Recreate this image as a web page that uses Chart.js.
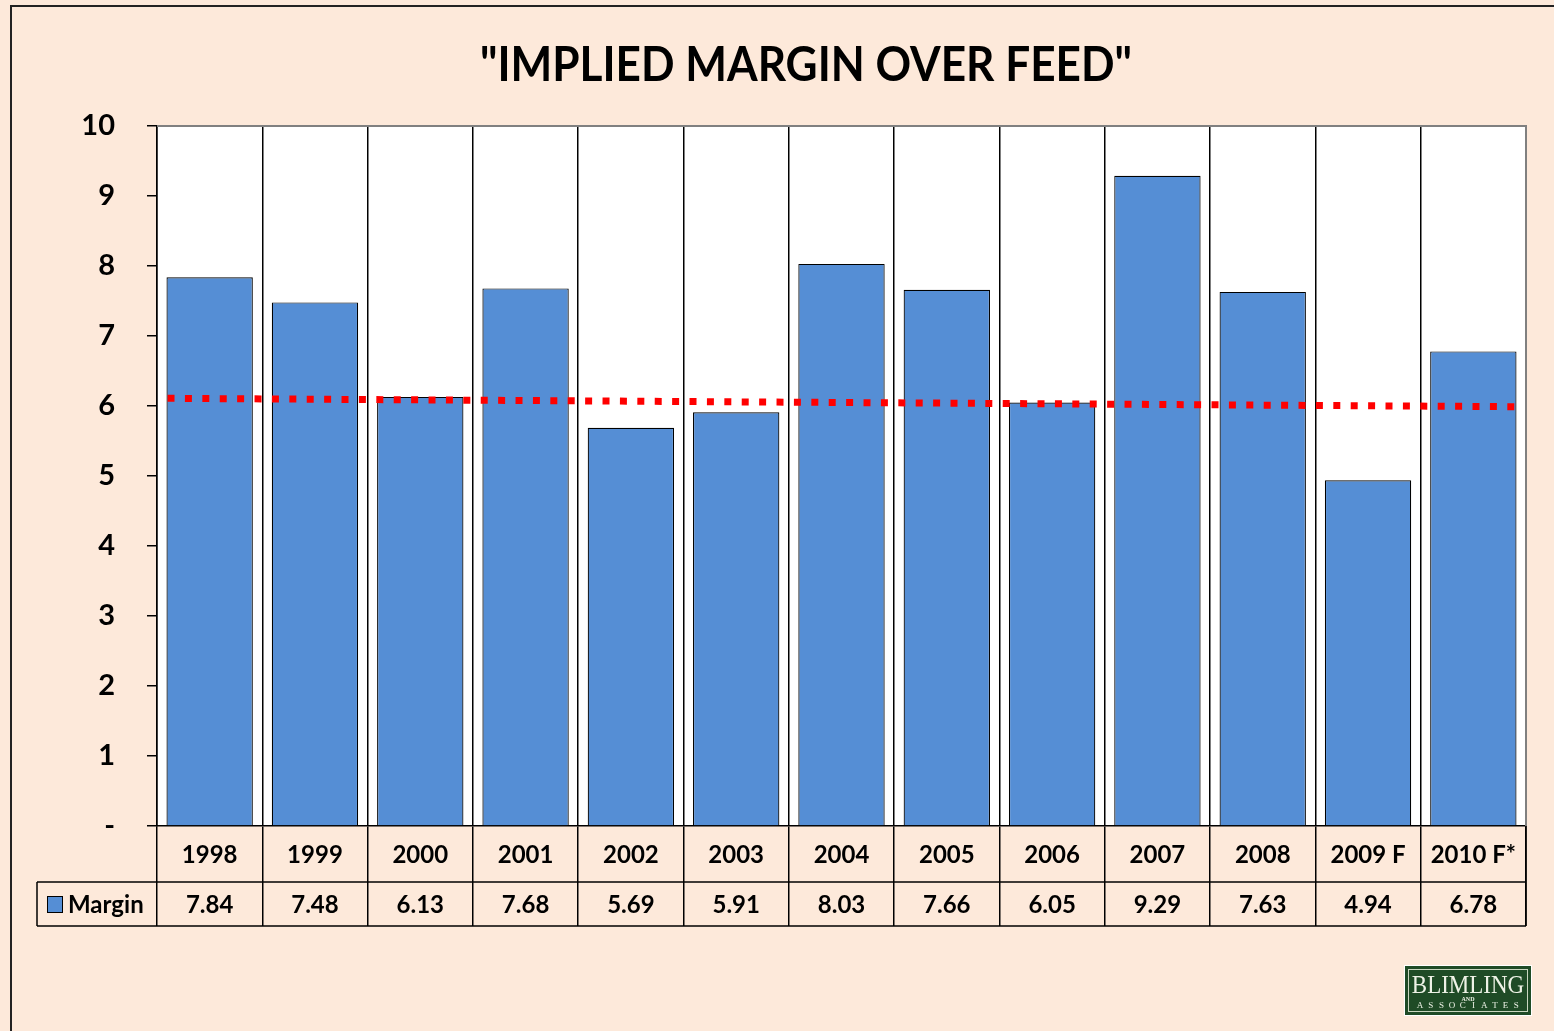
<!DOCTYPE html>
<html>
<head>
<meta charset="utf-8">
<script src="https://cdn.jsdelivr.net/npm/chart.js@4.4.1/dist/chart.umd.min.js"></script>
<style>
  html, body { margin: 0; padding: 0; background: #fde9da; }
  #wrap { width: 1554px; height: 1031px; }
</style>
</head>
<body>
<div id="wrap"><canvas id="marginChart" width="1554" height="1031"></canvas></div>
<script>
const years = ['1998', '1999', '2000', '2001', '2002', '2003', '2004', '2005', '2006', '2007', '2008', '2009 F', '2010 F*'];
const margin = [7.84, 7.48, 6.13, 7.68, 5.69, 5.91, 8.03, 7.66, 6.05, 9.29, 7.63, 4.94, 6.78];
const marginText = ['7.84', '7.48', '6.13', '7.68', '5.69', '5.91', '8.03', '7.66', '6.05', '9.29', '7.63', '4.94', '6.78'];
// trend line ends (category index, value)
const trendX = [-0.4, 12.4];
const trendY = [6.11, 5.99];
const yTickLabels = ['-', '1', '2', '3', '4', '5', '6', '7', '8', '9', '10'];

const PEACH = '#fde9da';
const BLUE = '#558ed5';
const FONT = 'Lato, "Open Sans", sans-serif';

const chartDecor = {
  id: 'chartDecor',
  beforeDraw(chart) {
    const c = chart.ctx;
    const a = chart.chartArea;
    c.save();
    c.fillStyle = PEACH;
    c.fillRect(0, 0, chart.width, chart.height);
    c.fillStyle = '#ffffff';
    c.fillRect(a.left, a.top, a.right - a.left, a.bottom - a.top);
    // outer frame
    c.strokeStyle = '#222';
    c.lineWidth = 2;
    c.beginPath();
    c.moveTo(11, chart.height + 5);
    c.lineTo(11, 6);
    c.lineTo(chart.width + 5, 6);
    c.stroke();
    c.restore();
  },
  afterDatasetsDraw(chart) {
    // dotted red trend line, placed through the chart's scales
    const c = chart.ctx;
    const x = chart.scales.x, y = chart.scales.y;
    c.save();
    c.strokeStyle = '#ff0000';
    c.lineWidth = 7;
    c.lineCap = 'butt';
    c.setLineDash([7, 10.4]);
    c.beginPath();
    c.moveTo(x.getPixelForValue(trendX[0]), y.getPixelForValue(trendY[0]));
    c.lineTo(x.getPixelForValue(trendX[1]), y.getPixelForValue(trendY[1]));
    c.stroke();
    c.restore();
  },
  afterDraw(chart) {
    const c = chart.ctx;
    const a = chart.chartArea;
    const x = chart.scales.x;
    c.save();

    // plot top and right border (grey)
    c.strokeStyle = '#808080';
    c.lineWidth = 2;
    c.beginPath();
    c.moveTo(a.left, a.top);
    c.lineTo(a.right, a.top);
    c.lineTo(a.right, a.bottom);
    c.stroke();

    // title
    const title = '"IMPLIED MARGIN OVER FEED"';
    c.font = 'bold 48px ' + FONT;
    c.fillStyle = '#000';
    c.textBaseline = 'middle';
    c.textAlign = 'center';
    const tw = c.measureText(title).width;
    const sx = Math.min(1, 652 / tw);
    c.save();
    c.translate(806, 66);
    c.scale(sx, 1);
    c.fillText(title, 0, 0);
    c.restore();

    // data table lines
    const row1 = 882, row2 = 926, legLeft = 37;
    c.strokeStyle = '#000';
    c.lineWidth = 1.5;
    c.beginPath();
    c.moveTo(legLeft, row1);
    c.lineTo(a.right, row1);
    c.moveTo(legLeft, row2);
    c.lineTo(a.right, row2);
    c.moveTo(legLeft, row1);
    c.lineTo(legLeft, row2);
    c.moveTo(a.right, a.bottom);
    c.lineTo(a.right, row2);
    c.stroke();

    // table text
    c.font = 'bold 24px ' + FONT;
    c.textAlign = 'center';
    years.forEach((yr, i) => {
      const cx = x.getPixelForValue(i);
      c.fillText(yr, cx, 855);
      c.fillText(marginText[i], cx, 905);
    });

    // legend key
    c.fillStyle = BLUE;
    c.fillRect(47, 896, 15, 16);
    c.strokeStyle = '#000';
    c.lineWidth = 1;
    c.strokeRect(47.5, 896.5, 15, 16);
    c.fillStyle = '#000';
    c.textAlign = 'left';
    c.fillText('Margin', 68, 905);

    // logo
    const lx = 1405, ly = 966, lw = 126, lh = 49;
    c.fillStyle = '#ffffff';
    c.fillRect(lx - 1, ly - 1, lw + 2, lh + 2);
    c.fillStyle = '#1f4b26';
    c.fillRect(lx, ly, lw, lh);
    c.strokeStyle = '#c9d6c0';
    c.lineWidth = 1;
    c.strokeRect(lx + 3.5, ly + 3.5, lw - 7, lh - 7);
    c.fillStyle = '#eef2e6';
    c.textAlign = 'center';
    c.font = '25px "Liberation Serif", "DejaVu Serif", serif';
    c.save();
    c.translate(lx + lw / 2, ly + 20);
    c.scale(0.92, 1);
    c.fillText('BLIMLING', 0, 0);
    c.restore();
    c.font = 'bold 6px "Liberation Serif", serif';
    c.fillText('AND', lx + lw / 2, ly + 33);
    c.font = '9px "Liberation Serif", serif';
    'ASSOCIATES'.split('').forEach((ch, i) => {
      c.fillText(ch, lx + 15 + i * 10.7, ly + 40);
    });
    c.restore();
  }
};

new Chart(document.getElementById('marginChart'), {
  type: 'bar',
  data: {
    labels: years,
    datasets: [
      {
        label: 'Margin',
        data: margin,
        backgroundColor: BLUE,
        borderColor: '#000',
        borderWidth: 1.2,
        categoryPercentage: 1,
        barPercentage: 0.82
      }
    ]
  },
  options: {
    responsive: false,
    animation: false,
    layout: { padding: { left: 0, top: 126, right: 28, bottom: 0 } },
    plugins: {
      legend: { display: false },
      title: { display: false },
      tooltip: { enabled: false }
    },
    scales: {
      x: {
        type: 'category',
        grid: {
          offset: true,
          color: '#000',
          lineWidth: 1.5,
          drawTicks: true,
          tickLength: 100
        },
        border: { color: '#000', width: 1.5 },
        ticks: { display: false },
        afterFit(scale) { scale.height = 205; }
      },
      y: {
        min: 0,
        max: 10,
        grid: {
          drawOnChartArea: false,
          color: '#000',
          lineWidth: 1.5,
          tickLength: 10
        },
        border: { color: '#000', width: 1.5 },
        ticks: {
          stepSize: 1,
          padding: 32,
          color: '#000',
          font: { family: FONT, size: 29, weight: 'bold' },
          callback: (v, i) => yTickLabels[i]
        },
        afterFit(scale) { scale.width = 157; }
      }
    }
  },
  plugins: [chartDecor]
});
</script>
</body>
</html>
